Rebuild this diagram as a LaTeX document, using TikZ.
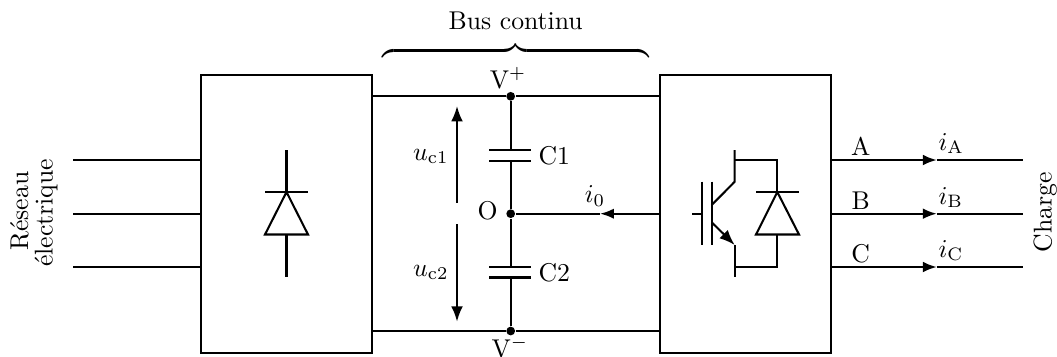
\documentclass[tikz,border=0pt]{standalone}
\usetikzlibrary{arrows.meta}
\tikzset{
  x=0.389pt,y=-0.389pt,
  wire/.style={line width=0.8pt},
  blockbox/.style={draw,line width=0.8pt,rectangle,inner sep=0pt,outer sep=0pt,minimum width=66.5pt,minimum height=108.1pt},
  flow/.style={wire,-{Latex[length=5.4pt,width=4.2pt]},shorten >=0pt},
  midflow/.style={wire,-{Latex[length=5.4pt,width=4pt]}},
  vflow/.style={wire,-{Latex[length=6pt,width=4.6pt]}},
  dot/.style={circle,fill=black,inner sep=0pt,minimum size=3.4pt},
  lbl/.style={inner sep=0pt,anchor=base},
  lblw/.style={inner sep=0pt,anchor=base west},
  side/.style={inner sep=0pt,rotate=90,anchor=base}
}
\begin{document}
\begin{tikzpicture}
\useasboundingbox (0,0) rectangle (1057,356);
% blocks
\node[blockbox] (rect) at (286.5,214) {};
\node[blockbox] (inv) at (745.5,214) {};
% left side terminals
\foreach \n/\y in {a/160,b/213.7,c/267}{
  \coordinate (in\n) at (73,\y);
  \coordinate (rect\n) at (201,\y);
  \draw[wire] (in\n) -- (rect\n);
}
% rectifier diode
\coordinate (rdT) at (286.5,150);
\coordinate (rdK) at (286.5,192);
\coordinate (rdA) at (286.5,234.5);
\coordinate (rdB) at (286.5,277);
\draw[wire] (rdT) -- (rdK);
\draw[wire] (rdA) -- (rdB);
\draw[wire] (265,192) -- (308,192);
\draw[wire,line join=miter] (rdK) -- (308,234.5) -- (265,234.5) -- cycle;
% DC bus
\coordinate (busTL) at (372,96.3);
\coordinate (busTR) at (660,96.3);
\coordinate (busBL) at (372,331);
\coordinate (busBR) at (660,331);
\node[dot] (vp) at (510.7,96.3) {};
\node[dot] (vm) at (510.7,331) {};
\node[dot] (o) at (510.7,213.7) {};
\coordinate (invo) at (660,213.7);
\draw[wire] (busTL) -- (vp) -- (busTR);
\draw[wire] (busBL) -- (vm) -- (busBR);
% capacitors
\coordinate (c1t) at (510.7,150);
\coordinate (c1b) at (510.7,160.7);
\coordinate (c2t) at (510.7,267);
\coordinate (c2b) at (510.7,277.5);
\draw[wire] (vp) -- (c1t);
\draw[wire] (c1b) -- (o);
\draw[wire] (o) -- (c2t);
\draw[wire] (c2b) -- (vm);
\draw[wire] (489,150) -- (531,150);
\draw[wire] (489,160.7) -- (531,160.7);
\draw[wire] (489,267) -- (531,267);
\draw[wire] (489,277.5) -- (531,277.5);
% i0
\coordinate (i0tip) at (600,213.7);
\draw[midflow] (invo) -- (i0tip);
\draw[wire] (i0tip) -- (o);
% voltages
\coordinate (u1s) at (457,202.7);
\coordinate (u1e) at (457,106);
\coordinate (u2s) at (457,224);
\coordinate (u2e) at (457,321.7);
\draw[vflow] (u1s) -- (u1e);
\draw[vflow] (u2s) -- (u2e);
% IGBT
\coordinate (colT) at (734.7,150);
\coordinate (colK) at (734.7,181.7);
\coordinate (baseC) at (711.7,205);
\coordinate (baseE) at (711.7,222.3);
\coordinate (emK) at (734.7,245);
\coordinate (emB) at (734.7,277);
\draw[wire] (colT) -- (colK) -- (baseC);
\draw[wire,-{Latex[length=6pt,width=4.6pt]}] (baseE) -- (emK);
\draw[wire] (emK) -- (emB);
\draw[wire] (711.7,181.7) -- (711.7,245);
\draw[wire] (702.3,181.7) -- (702.3,245);
\draw[wire] (692.3,213.7) -- (702.3,213.7);
% inverter diode
\coordinate (idK) at (777.3,192);
\coordinate (idA) at (777.3,234.5);
\draw[wire] (734.7,160) -| (idK);
\draw[wire] (734.7,267) -| (idA);
\draw[wire] (756,192) -- (799,192);
\draw[wire,line join=miter] (idK) -- (799,234.5) -- (756,234.5) -- cycle;
% outputs
\foreach \n/\y in {a/160,b/213.7,c/267}{
  \coordinate (out\n) at (831,\y);
  \coordinate (tip\n) at (936.7,\y);
  \coordinate (end\n) at (1022.7,\y);
  \draw[flow] (out\n) -- (tip\n);
  \draw[wire] (tip\n) -- (end\n);
}
% brace
\node[inner sep=0pt] (brace) at (515.7,60) {\smash{$\overbrace{\hspace{104pt}}$}};
% labels
\node[lbl] (bus) at (515.7,29) {Bus continu};
\node[lbl] (vplus) at (508,88) {V$^{+}$};
\node[lbl] (vminus) at (510,357) {V$^{-}$};
\node[lbl] (olab) at (487.7,219.5) {O};
\node[lblw] (c1lab) at (538,164) {C1};
\node[lblw] (c2lab) at (538,281) {C2};
\node[lblw] (u1lab) at (412.7,160) {$u_{\mathrm{c1}}$};
\node[lblw] (u2lab) at (412.7,276) {$u_{\mathrm{c2}}$};
\node[lbl] (i0lab) at (595,202.7) {$i_0$};
\node[lbl] (alab) at (860.7,155) {A};
\node[lbl] (blab) at (860.7,209) {B};
\node[lbl] (clab) at (860.7,262) {C};
\node[lblw] (ialab) at (938,150) {$i_{\mathrm{A}}$};
\node[lblw] (iblab) at (938,204) {$i_{\mathrm{B}}$};
\node[lblw] (iclab) at (938,257) {$i_{\mathrm{C}}$};
\node[side] (res1) at (28,211) {Réseau};
\node[side] (res2) at (52.7,213) {électrique};
\node[side] (chg) at (1051.7,212.5) {Charge};
\end{tikzpicture}
\end{document}
